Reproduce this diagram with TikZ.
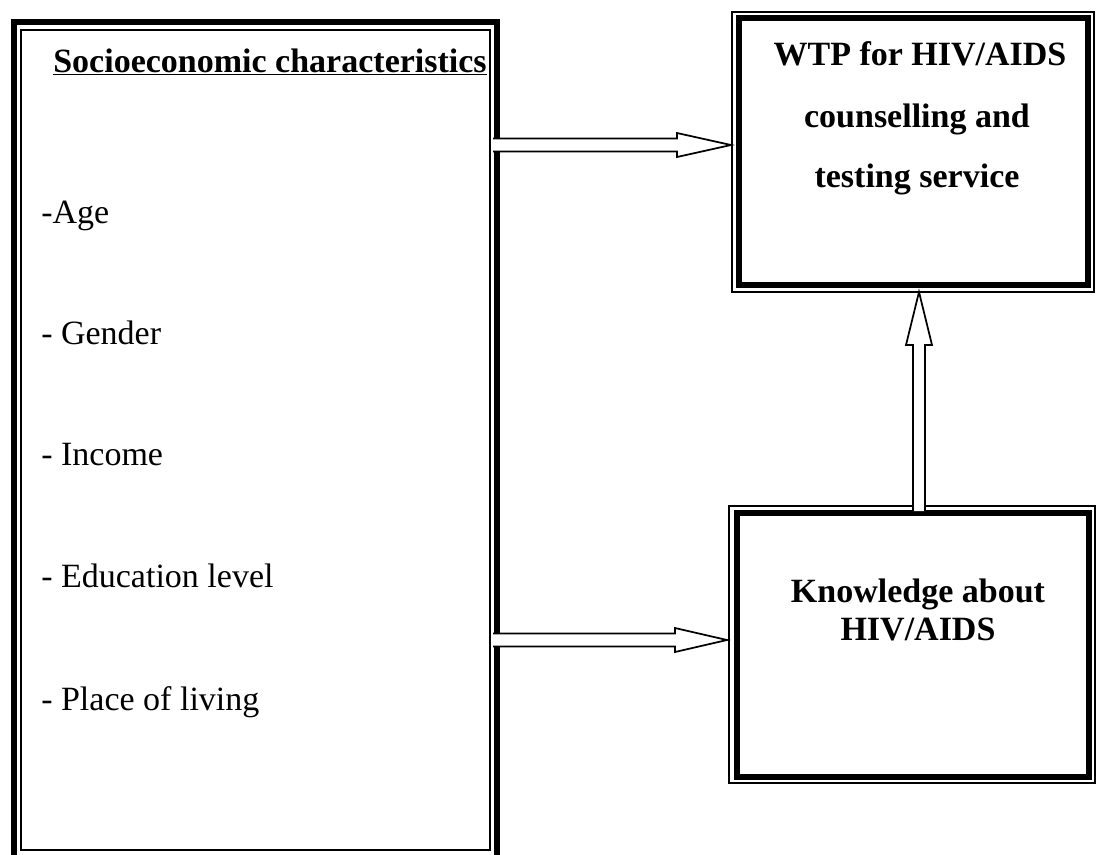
\documentclass[tikz,border=0pt]{standalone}
\usepackage{fontspec}
\setmainfont{Liberation Serif}
\usetikzlibrary{positioning}

\tikzset{
    bigtext/.style={font=\fontsize{25.5}{30}\selectfont, inner sep=0pt, anchor=base west},
    boldtext/.style={font=\fontsize{25.5}{30}\selectfont\bfseries, inner sep=0pt, anchor=base},
    thickline/.style={line width=4.5pt},
    thinline/.style={line width=1.3pt},
    hollow/.style={draw, line width=1.3pt, fill=white, line join=miter}
}

\begin{document}
\begin{tikzpicture}[x=0.75pt, y=-0.75pt]
    \useasboundingbox (0,0) rectangle (1096,854);

    % === LEFT BOX: socioeconomic characteristics ===
    \draw[thickline] (14,900) -- (14,22) -- (497,22) -- (497,900);
    \draw[thinline] (21,850) rectangle (490,30);

    \node[boldtext] (title) at (270,72) {\underline{Socioeconomic characteristics}};
    \node[bigtext] (age) at (41,223) {-Age};
    \node[bigtext] (gender) at (41,344) {- Gender};
    \node[bigtext] (income) at (41,465) {- Income};
    \node[bigtext] (educ) at (41,587) {- Education level};
    \node[bigtext] (place) at (41,710) {- Place of living};

    % === RIGHT BOXES ===
    \draw[thinline] (732,12) rectangle (1094,292);
    \draw[thickline] (739,18) rectangle (1088,285);
    \node[boldtext] (wtpa) at (920,65) {WTP for HIV/AIDS};
    \node[boldtext] (wtpb) at (917,127) {counselling and};
    \node[boldtext] (wtpc) at (917,187) {testing service};

    \draw[thinline] (729,506) rectangle (1095,783);
    \draw[thickline] (737,513) rectangle (1089,777);
    \node[boldtext] (knowa) at (918,602) {Knowledge about};
    \node[boldtext] (knowb) at (918,640) {HIV/AIDS};

    % ends of the hollow arrows
    \coordinate (a1) at (493,145);
    \coordinate (b1) at (731,145);
    \coordinate (a2) at (493,640);
    \coordinate (b2) at (727,640);
    \coordinate (a3) at (919,511);
    \coordinate (b3) at (919,292);

    % === HOLLOW ARROWS ===
    \filldraw[hollow] ([shift={(0,-6.5)}]a1) -- ([shift={(-54,-6.5)}]b1) -- ([shift={(-54,-12)}]b1)
        -- (b1) -- ([shift={(-54,12)}]b1) -- ([shift={(-54,6.5)}]b1) -- ([shift={(0,6.5)}]a1);
    \filldraw[hollow] ([shift={(0,-6.5)}]a2) -- ([shift={(-52,-6.5)}]b2) -- ([shift={(-52,-12)}]b2)
        -- (b2) -- ([shift={(-52,12)}]b2) -- ([shift={(-52,6.5)}]b2) -- ([shift={(0,6.5)}]a2);
    \filldraw[hollow] ([shift={(-6,0)}]a3) -- ([shift={(-6,53)}]b3) -- ([shift={(-13,53)}]b3)
        -- (b3) -- ([shift={(13,53)}]b3) -- ([shift={(6,53)}]b3) -- ([shift={(6,0)}]a3);
\end{tikzpicture}
\end{document}
